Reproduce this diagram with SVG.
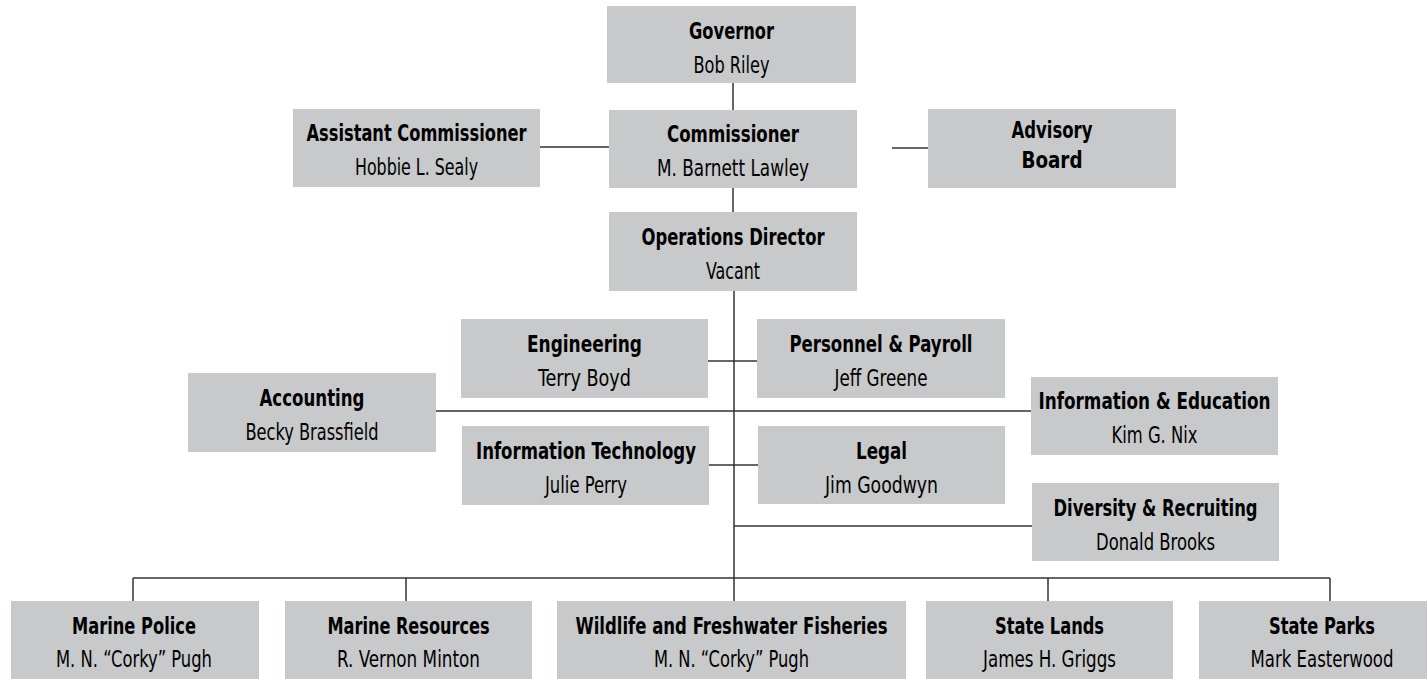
<svg xmlns="http://www.w3.org/2000/svg" width="1427" height="679" viewBox="0 0 1427 679">
<style>
.box{fill:#c8c9cb}
.t{font-family:"Liberation Sans Narrow","DejaVu Sans Condensed","Liberation Sans",sans-serif;font-size:23px;fill:#000;text-anchor:middle}
.b{font-weight:bold}
.ln{stroke:#333;stroke-width:1.5;fill:none}
</style>
<rect width="1427" height="679" fill="#fff"/>
<g id="connectors" class="ln">
<line x1="733" y1="83" x2="733" y2="110"/>
<line x1="733" y1="188" x2="733" y2="212"/>
<line x1="540" y1="147" x2="609" y2="147"/>
<line x1="892" y1="148" x2="928" y2="148"/>
<line x1="734" y1="291" x2="734" y2="578"/>
<line x1="708" y1="361" x2="757" y2="361"/>
<line x1="709" y1="465" x2="758" y2="465"/>
<line x1="436" y1="411" x2="1031" y2="411"/>
<line x1="734" y1="526" x2="1032" y2="526"/>
<line x1="133" y1="578" x2="1330" y2="578"/>
<line x1="133" y1="578" x2="133" y2="601"/>
<line x1="406" y1="578" x2="406" y2="601"/>
<line x1="734" y1="578" x2="734" y2="601"/>
<line x1="1048" y1="578" x2="1048" y2="601"/>
<line x1="1330" y1="578" x2="1330" y2="601"/>
</g>
<g id="governor"><rect class="box" x="607" y="6" width="249" height="77"/><text class="t b" x="731.5" y="39" textLength="85" lengthAdjust="spacingAndGlyphs">Governor</text><text class="t" x="731.5" y="73" textLength="76" lengthAdjust="spacingAndGlyphs">Bob Riley</text></g>
<g id="commissioner"><rect class="box" x="609" y="110" width="248" height="78"/><text class="t b" x="733" y="142" textLength="132" lengthAdjust="spacingAndGlyphs">Commissioner</text><text class="t" x="733" y="176" textLength="152" lengthAdjust="spacingAndGlyphs">M. Barnett Lawley</text></g>
<g id="assistant"><rect class="box" x="293" y="109" width="247" height="78"/><text class="t b" x="416.5" y="141" textLength="220" lengthAdjust="spacingAndGlyphs">Assistant Commissioner</text><text class="t" x="416.5" y="175" textLength="123" lengthAdjust="spacingAndGlyphs">Hobbie L. Sealy</text></g>
<g id="advisory"><rect class="box" x="928" y="109" width="248" height="79"/><text class="t b" x="1052" y="138" textLength="81" lengthAdjust="spacingAndGlyphs">Advisory</text><text class="t b" x="1052" y="168" textLength="61" lengthAdjust="spacingAndGlyphs">Board</text></g>
<g id="operations"><rect class="box" x="609" y="212" width="248" height="79"/><text class="t b" x="733" y="245" textLength="183" lengthAdjust="spacingAndGlyphs">Operations Director</text><text class="t" x="733" y="279" textLength="54" lengthAdjust="spacingAndGlyphs">Vacant</text></g>
<g id="engineering"><rect class="box" x="461" y="319" width="247" height="79"/><text class="t b" x="584.5" y="352" textLength="115" lengthAdjust="spacingAndGlyphs">Engineering</text><text class="t" x="584.5" y="386" textLength="93" lengthAdjust="spacingAndGlyphs">Terry Boyd</text></g>
<g id="personnel"><rect class="box" x="757" y="319" width="248" height="79"/><text class="t b" x="881" y="352" textLength="183" lengthAdjust="spacingAndGlyphs">Personnel &amp; Payroll</text><text class="t" x="881" y="386" textLength="93" lengthAdjust="spacingAndGlyphs">Jeff Greene</text></g>
<g id="accounting"><rect class="box" x="188" y="373" width="248" height="79"/><text class="t b" x="312" y="406" textLength="105" lengthAdjust="spacingAndGlyphs">Accounting</text><text class="t" x="312" y="440" textLength="133" lengthAdjust="spacingAndGlyphs">Becky Brassfield</text></g>
<g id="info-education"><rect class="box" x="1031" y="377" width="247" height="78"/><text class="t b" x="1154.5" y="409" textLength="232" lengthAdjust="spacingAndGlyphs">Information &amp; Education</text><text class="t" x="1154.5" y="443" textLength="86" lengthAdjust="spacingAndGlyphs">Kim G. Nix</text></g>
<g id="it"><rect class="box" x="462" y="426" width="247" height="79"/><text class="t b" x="586" y="459" textLength="220" lengthAdjust="spacingAndGlyphs">Information Technology</text><text class="t" x="586" y="493" textLength="82" lengthAdjust="spacingAndGlyphs">Julie Perry</text></g>
<g id="legal"><rect class="box" x="758" y="426" width="247" height="78"/><text class="t b" x="881.5" y="459" textLength="51" lengthAdjust="spacingAndGlyphs">Legal</text><text class="t" x="881.5" y="493" textLength="113" lengthAdjust="spacingAndGlyphs">Jim Goodwyn</text></g>
<g id="diversity"><rect class="box" x="1032" y="483" width="247" height="78"/><text class="t b" x="1155.5" y="516" textLength="204" lengthAdjust="spacingAndGlyphs">Diversity &amp; Recruiting</text><text class="t" x="1155.5" y="550" textLength="119" lengthAdjust="spacingAndGlyphs">Donald Brooks</text></g>
<g id="marine-police"><rect class="box" x="11" y="601" width="248" height="78"/><text class="t b" x="134" y="634" textLength="124" lengthAdjust="spacingAndGlyphs">Marine Police</text><text class="t" x="134" y="667" textLength="156" lengthAdjust="spacingAndGlyphs">M. N. “Corky” Pugh</text></g>
<g id="marine-resources"><rect class="box" x="285" y="601" width="247" height="78"/><text class="t b" x="408.5" y="634" textLength="162" lengthAdjust="spacingAndGlyphs">Marine Resources</text><text class="t" x="408.5" y="667" textLength="143" lengthAdjust="spacingAndGlyphs">R. Vernon Minton</text></g>
<g id="wildlife"><rect class="box" x="557" y="601" width="349" height="78"/><text class="t b" x="731.5" y="634" textLength="312" lengthAdjust="spacingAndGlyphs">Wildlife and Freshwater Fisheries</text><text class="t" x="731.5" y="667" textLength="155" lengthAdjust="spacingAndGlyphs">M. N. “Corky” Pugh</text></g>
<g id="state-lands"><rect class="box" x="926" y="601" width="247" height="78"/><text class="t b" x="1049.5" y="634" textLength="109" lengthAdjust="spacingAndGlyphs">State Lands</text><text class="t" x="1049.5" y="667" textLength="133" lengthAdjust="spacingAndGlyphs">James H. Griggs</text></g>
<g id="state-parks"><rect class="box" x="1199" y="601" width="247" height="78"/><text class="t b" x="1322" y="634" textLength="106" lengthAdjust="spacingAndGlyphs">State Parks</text><text class="t" x="1322" y="667" textLength="143" lengthAdjust="spacingAndGlyphs">Mark Easterwood</text></g>
</svg>
